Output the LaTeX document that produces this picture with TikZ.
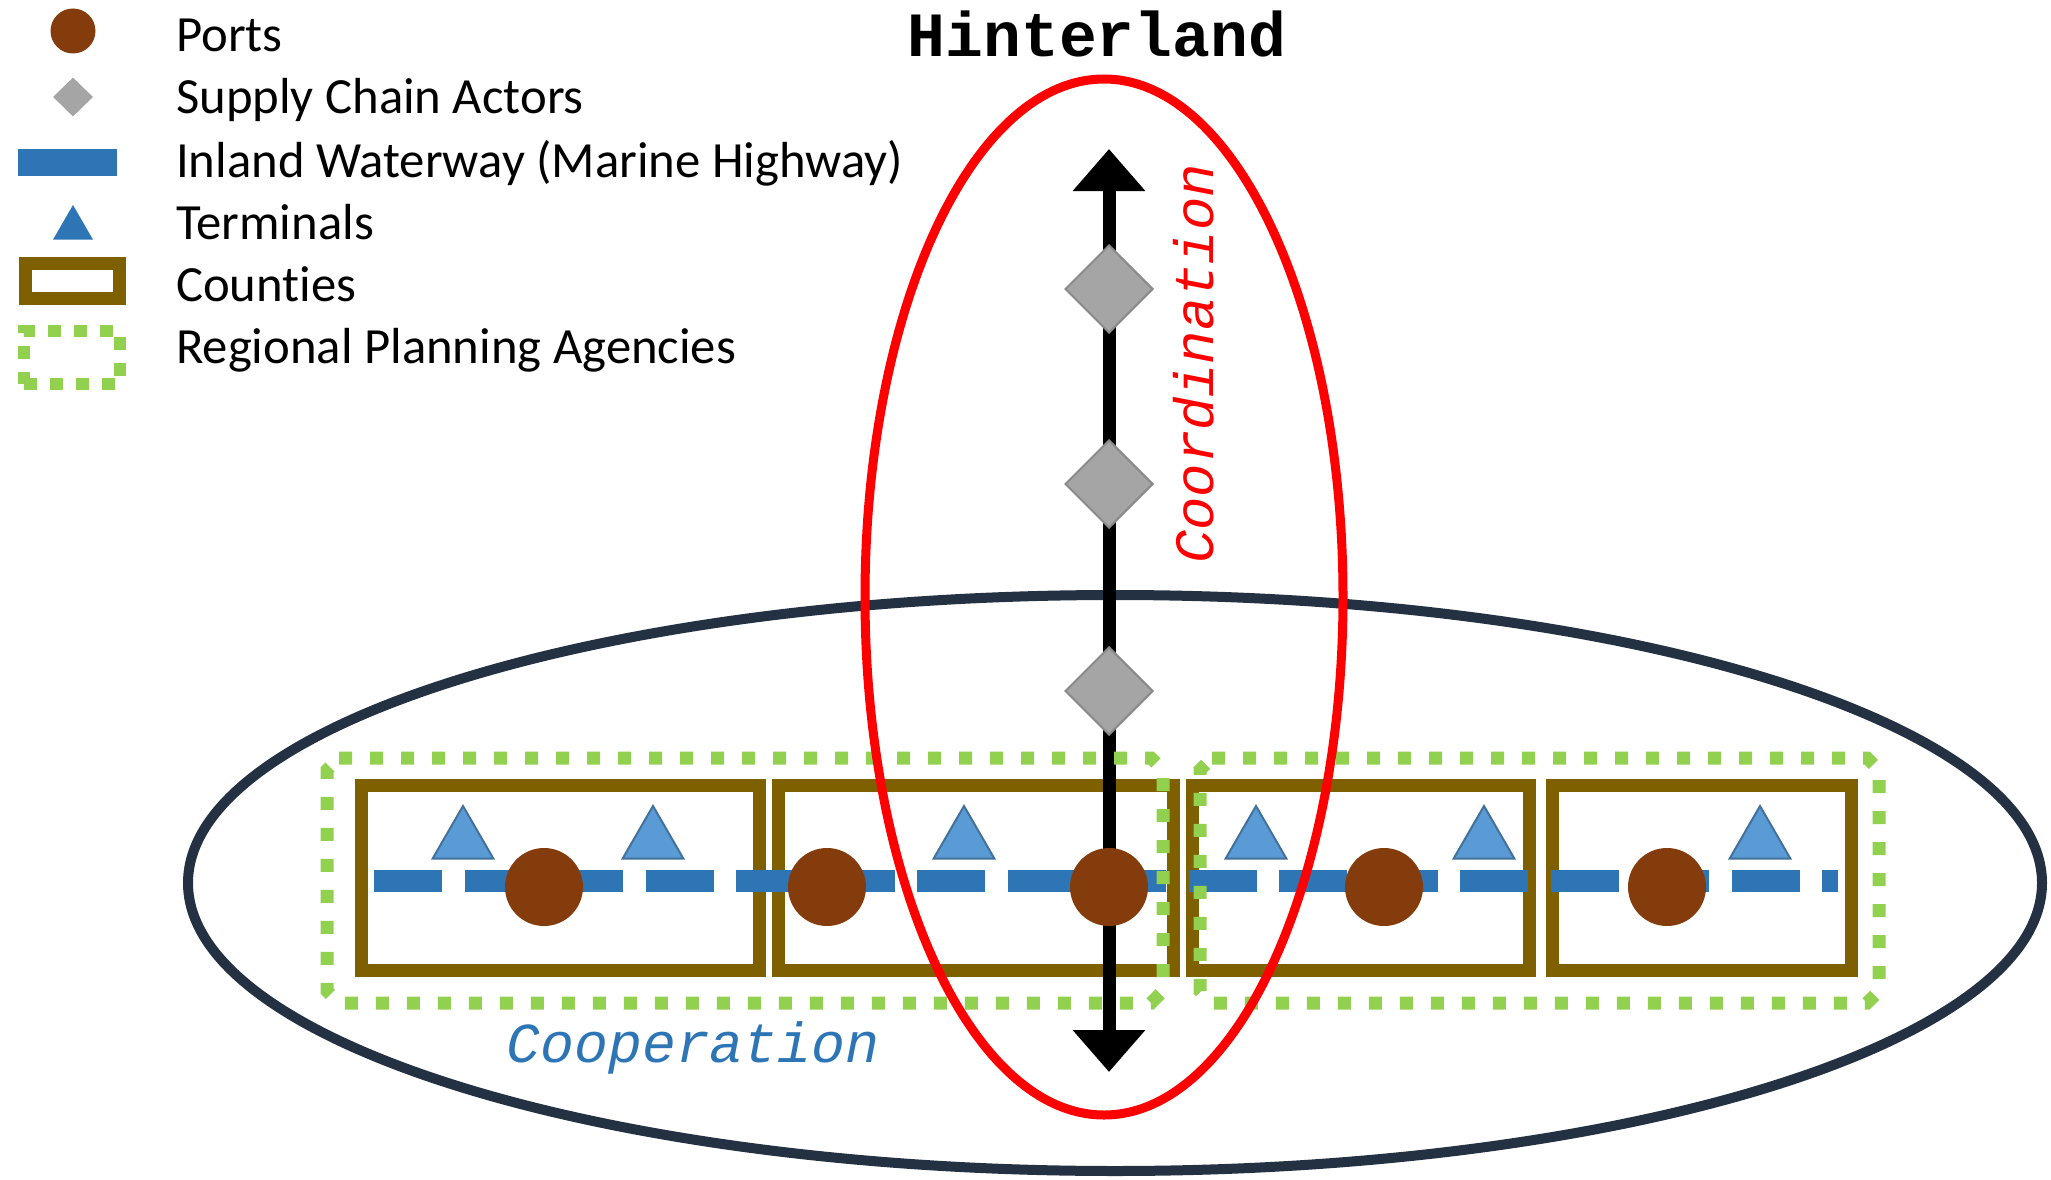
\documentclass[tikz,border=0pt]{standalone}
\usepackage{fontspec}
\setmainfont{Carlito}[Ligatures=NoCommon]
\newfontfamily\typefont{Liberation Mono}
\usetikzlibrary{shapes.geometric,arrows.meta}
\definecolor{portbrown}{HTML}{843C0C}
\definecolor{actorgray}{HTML}{A5A5A5}
\definecolor{actoredge}{HTML}{8A8A8A}
\definecolor{waterblue}{HTML}{2E75B6}
\definecolor{termblue}{HTML}{5B9BD5}
\definecolor{termedge}{HTML}{41719C}
\definecolor{countybrown}{HTML}{7F6000}
\definecolor{rpagreen}{HTML}{92D050}
\definecolor{coopnavy}{HTML}{243142}

\begin{document}
\begin{tikzpicture}[x=1pt,y=-1pt,
 port/.style={circle,fill=portbrown,inner sep=0pt,minimum size=78pt},
 actor/.style={diamond,fill=actorgray,draw=actoredge,line width=2pt,inner sep=0pt,minimum width=88pt,minimum height=88pt},
 terminal/.style={regular polygon,regular polygon sides=3,fill=termblue,draw=termedge,line width=2pt,inner sep=0pt,minimum size=70pt},
 county/.style={draw=countybrown,line width=13pt},
 agency/.style={draw=rpagreen,line width=13pt,dash pattern=on 13pt off 18pt},
 waterway/.style={draw=waterblue,line width=22pt,dash pattern=on 68pt off 22.5pt},
 keytext/.style={anchor=base west,inner sep=0pt,font=\fontsize{50.7}{60}\selectfont}]
 \useasboundingbox (0,0) rectangle (2051,1180);

 \node[port,minimum size=45pt] (keyport) at (73,31) {};
 \node[diamond,fill=actorgray,inner sep=0pt,minimum width=40pt,minimum height=39pt] (keyactor) at (73,97) {};
 \node[rectangle,fill=waterblue,inner sep=0pt,minimum width=99pt,minimum height=27pt] (keyway) at (67.5,162.5) {};
 \node[regular polygon,regular polygon sides=3,fill=waterblue,inner sep=0pt,minimum size=46pt] (keyterminal) at (73,228) {};
 \node[rectangle,county,inner sep=0pt,minimum width=94pt,minimum height=35pt] (keycounty) at (72,280.5) {};
 \node[rectangle,draw=rpagreen,line width=12pt,dash pattern=on 13pt off 13pt,inner sep=0pt,minimum width=96pt,minimum height=53pt] (keyagency) at (72,357.5) {};
 \node[keytext] (tports) at (176,52) {Ports};
 \node[keytext] (tactors) at (176,114) {Supply Chain Actors};
 \node[keytext] (tway) at (176,177) {Inland Waterway (Marine Highway)};
 \node[keytext] (tterminals) at (176,239) {Terminals};
 \node[keytext] (tcounties) at (176,301) {Counties};
 \node[keytext] (tagencies) at (176,363) {Regional Planning Agencies};

 \draw[coopnavy,line width=10pt] (1115,883) ellipse (927 and 288);

 \draw[county] (361,785) rectangle (759,970);
 \draw[county] (778,785) rectangle (1173,970);
 \draw[county] (1192,785) rectangle (1529,970);
 \draw[county] (1552,785) rectangle (1851,970);

 \coordinate (wwest) at (374,881);
 \coordinate (weast) at (1838,881);
 \draw[waterway] (wwest) -- (weast);

 \coordinate (hintop) at (1109,149);
 \coordinate (hinbot) at (1109,1072);
 \draw[line width=13pt,{Triangle[width=70pt,length=42pt]}-{Triangle[width=70pt,length=42pt]}] (hinbot) -- (hintop);

 \draw[agency] (339,758) -- (1151,758) -- (1163,770) -- (1163,991) -- (1151,1003) -- (339,1003) -- (327,991) -- (327,770) -- cycle;
 \draw[agency] (1212,758) -- (1867,758) -- (1879,770) -- (1879,991) -- (1867,1003) -- (1212,1003) -- (1200,991) -- (1200,770) -- cycle;

 \draw[red,line width=9pt] (1104,597) ellipse (239 and 518);

 \node[port] (p1) at (544,887) {};
 \node[port] (p2) at (827,887) {};
 \node[port] (p3) at (1109,887) {};
 \node[port] (p4) at (1384,887) {};
 \node[port] (p5) at (1667,887) {};

 \node[terminal] (t1) at (463,841) {};
 \node[terminal] (t2) at (653,841) {};
 \node[terminal] (t3) at (964,841) {};
 \node[terminal] (t4) at (1256,841) {};
 \node[terminal] (t5) at (1484,841) {};
 \node[terminal] (t6) at (1760,841) {};

 \node[actor] (a1) at (1109,289) {};
 \node[actor] (a2) at (1109,484) {};
 \node[actor] (a3) at (1109,691) {};

 \node[anchor=base,inner sep=0pt,font=\typefont\bfseries\fontsize{63}{70}\selectfont] (hinter) at (1097,57) {Hinterland};
 \node[rotate=90,inner sep=0pt,text=red,font=\typefont\itshape\fontsize{55.5}{60}\selectfont] (coord) at (1194,364) {Coordination};
 \node[anchor=base,inner sep=0pt,text=waterblue,font=\typefont\itshape\fontsize{56.4}{60}\selectfont] (coop) at (693,1062) {Cooperation};
\end{tikzpicture}
\end{document}
